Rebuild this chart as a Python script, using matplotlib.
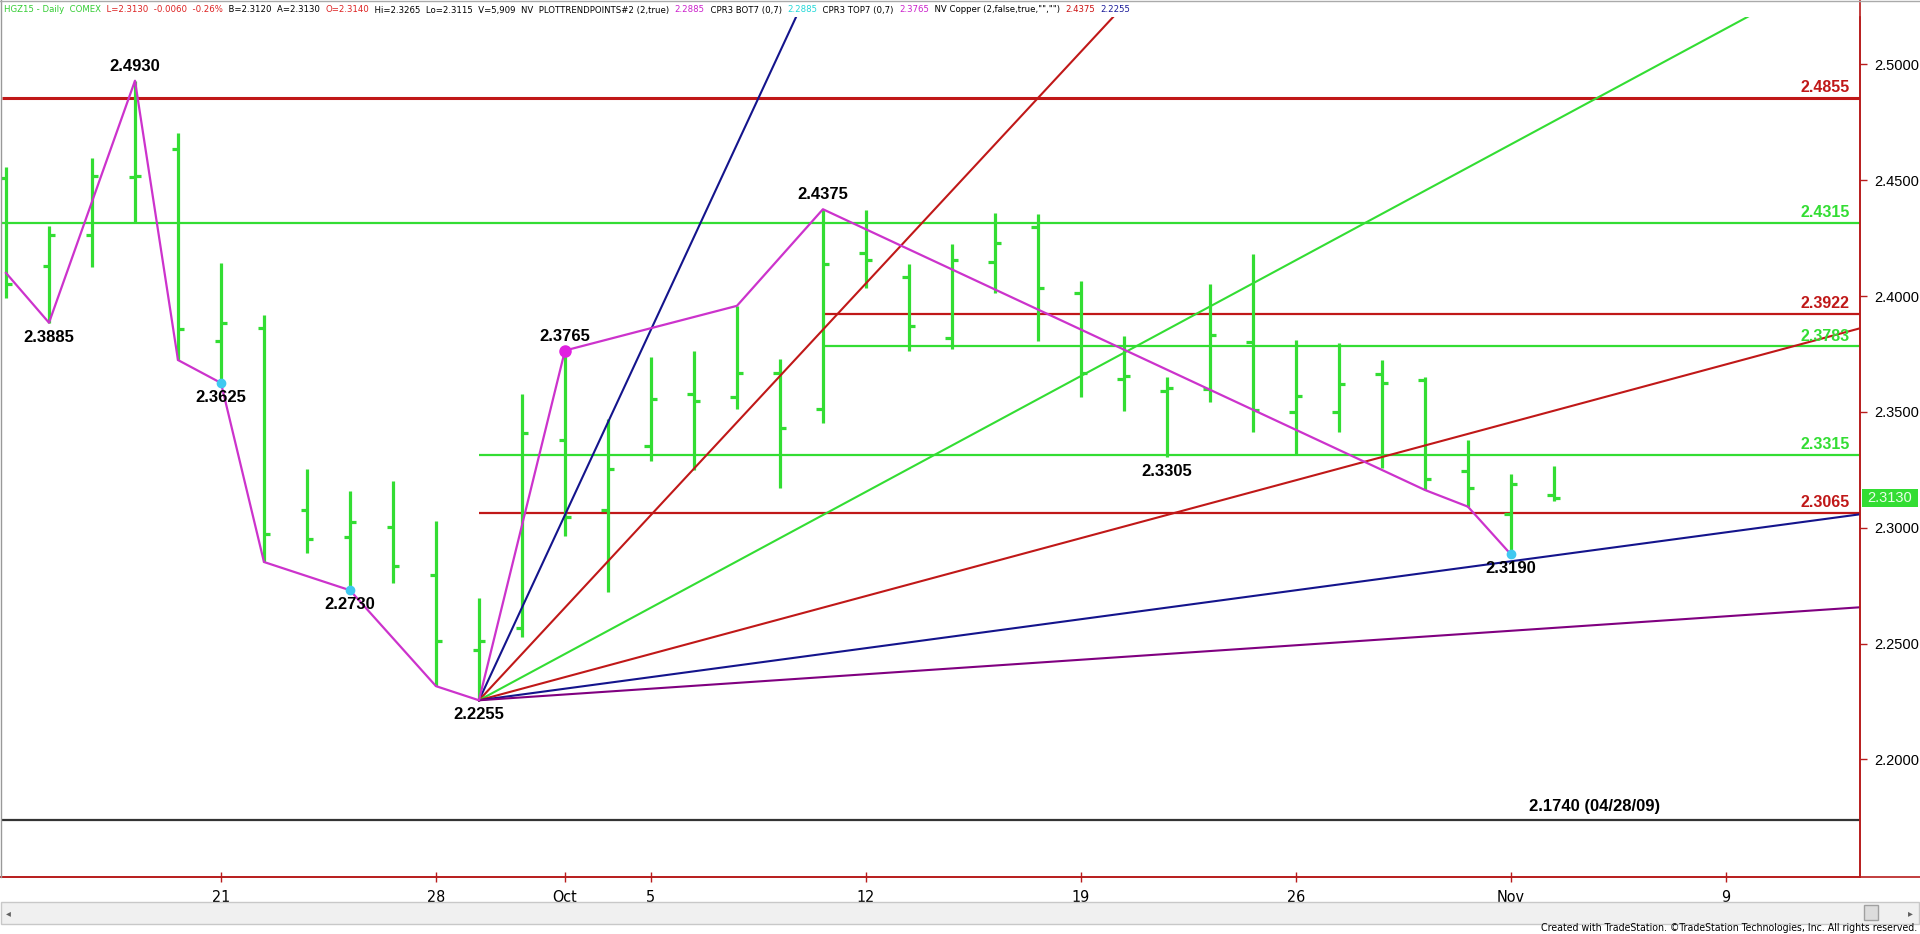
import matplotlib
matplotlib.use("Agg")
import matplotlib.pyplot as plt
from matplotlib import font_manager
from matplotlib.font_manager import FontProperties
from matplotlib.lines import Line2D
from matplotlib.patches import Rectangle

# ---- data ----
dates = ["09-14", "09-15", "09-16", "09-17", "09-18", "09-21", "09-22", "09-23", "09-24", "09-25",
         "09-28", "09-29", "09-30", "10-01", "10-02", "10-05", "10-06", "10-07", "10-08", "10-09",
         "10-12", "10-13", "10-14", "10-15", "10-16", "10-19", "10-20", "10-21", "10-22", "10-23",
         "10-26", "10-27", "10-28", "10-29", "10-30", "11-02", "11-03"]
opens = [2.4509, 2.4130, 2.4262, 2.4515, 2.4634, 2.3806, 2.3861, 2.3076, 2.2958, 2.3003,
         2.2796, 2.2472, 2.2566, 2.3379, 2.3076, 2.3353, 2.3576, 2.3566, 2.3667, 2.3511,
         2.4185, 2.4081, 2.3818, 2.4149, 2.4297, 2.4012, 2.3640, 2.3590, 2.3598, 2.3803,
         2.3498, 2.3498, 2.3664, 2.3638, 2.3246, 2.3058, 2.3140]
highs = [2.4556, 2.4303, 2.4595, 2.4930, 2.4703, 2.4142, 2.3918, 2.3252, 2.3158, 2.3203,
         2.3029, 2.2695, 2.3576, 2.3765, 2.3468, 2.3736, 2.3762, 2.3958, 2.3727, 2.4375,
         2.4372, 2.4137, 2.4225, 2.4357, 2.4353, 2.4066, 2.3829, 2.3652, 2.4051, 2.4182,
         2.3810, 2.3796, 2.3724, 2.3652, 2.3379, 2.3230, 2.3265]
lows = [2.3993, 2.3885, 2.4124, 2.4320, 2.3724, 2.3625, 2.2852, 2.2892, 2.2730, 2.2762,
        2.2316, 2.2255, 2.2527, 2.2964, 2.2721, 2.3288, 2.3250, 2.3511, 2.3170, 2.3453,
        2.4036, 2.3763, 2.3772, 2.4012, 2.3806, 2.3563, 2.3504, 2.3305, 2.3541, 2.3412,
        2.3314, 2.3412, 2.3257, 2.3163, 2.3091, 2.2885, 2.3115]
closes = [2.4052, 2.4262, 2.4519, 2.4520, 2.3857, 2.3883, 2.2971, 2.2950, 2.3023, 2.2835,
          2.2511, 2.2512, 2.3408, 2.3045, 2.3252, 2.3556, 2.3547, 2.3667, 2.3429, 2.4137,
          2.4156, 2.3872, 2.4156, 2.4228, 2.4034, 2.3667, 2.3655, 2.3602, 2.3832, 2.3508,
          2.3569, 2.3619, 2.3623, 2.3210, 2.3170, 2.3187, 2.3130]

# x tick labels (bar index -> label)
tick_idx = [5, 10, 13, 15, 20, 25, 30, 35, 40]
tick_labels = ["21", "28", "Oct", "5", "12", "19", "26", "Nov", "9"]

# swing line (PLOTTRENDPOINTS)
swing_idx = [0, 1, 3, 4, 5, 6, 8, 10, 11, 13, 17, 19, 33, 34, 35]
swing_px = [2.4100, 2.3885, 2.4930, 2.3724, 2.3625, 2.2852, 2.2730, 2.2316, 2.2255, 2.3765,
            2.3958, 2.4375, 2.3163, 2.3091, 2.2885]
cyan_idx = [5, 8, 35]
cyan_px = [2.3625, 2.2730, 2.2885]

# pivot labels
pivot_idx = [3, 1, 5, 8, 11, 13, 19, 27, 35]
pivot_px = [2.4930, 2.3885, 2.3625, 2.2730, 2.2255, 2.3765, 2.4375, 2.3305, 2.2885]
pivot_txt = ["2.4930", "2.3885", "2.3625", "2.2730", "2.2255", "2.3765", "2.4375", "2.3305", "2.3190"]
pivot_up = [True, False, False, False, False, True, True, False, False]

# gann fan from the 2.2255 low
fan_origin = (11, 2.2255)
fan_slopes = [0.04, 0.02, 0.01, 0.005, 0.0025, 0.00125]
fan_colors = ["#14148c", "#c01818", "#33dd33", "#c01818", "#14148c", "#800080"]

# horizontal levels: price, colour, start bar (None = whole chart)
levels = [2.4855, 2.4315, 2.3922, 2.3783, 2.3315, 2.3065]
level_colors = ["#c01818", "#33dd33", "#c01818", "#33dd33", "#33dd33", "#c01818"]
level_start = [None, None, 19, 19, 11, 11]
old_low = 2.1740

last_price = 2.3130
yticks = [2.20, 2.25, 2.30, 2.35, 2.40, 2.45, 2.50]

GREEN = "#33dd33"
RED = "#b81c1c"
MAG = "#cc33cc"

plt.rcParams["font.family"] = ["Liberation Sans", "DejaVu Sans"]

# look for a narrow face for the header / axis dates (TradeStation uses Arial Narrow)
narrow = FontProperties(family="Liberation Sans")
cands = []
for f in font_manager.fontManager.ttflist:
    fn = f.fname.lower()
    if ("narrow" in fn or "condensed" in fn) and f.weight in (400, "normal", "regular") \
            and f.style == "normal":
        score = 0 if "liberationsansnarrow" in fn.replace("-", "") else (1 if "arial" in fn else 2)
        cands.append((score, f.fname))
if cands:
    cands.sort()
    narrow = FontProperties(fname=cands[0][1])

W, H = 1920, 934
fig = plt.figure(figsize=(W / 100, H / 100), dpi=100)
fig.patch.set_facecolor("white")

# axes from x=2..1860 px, y=17..877 px
ax = fig.add_axes([2 / W, (H - 877) / H, 1858 / W, 860 / H])
ax.set_xlim(-0.093, 43.12)
ax.set_ylim(2.1492, 2.5205)

# levels
for lv, c, st in zip(levels, level_colors, level_start):
    x0 = -0.093 if st is None else st
    lw = 2.2 if lv == 2.4855 else 1.6
    ax.plot([x0, 43.12], [lv, lv], color=c, lw=lw, zorder=2, solid_capstyle="butt")
    ax.annotate(f"{lv:.4f}", xy=(0.9946, lv), xycoords=("axes fraction", "data"),
                xytext=(0, 2), textcoords="offset points", ha="right", va="bottom",
                fontsize=11.5, fontweight="bold", color=c, zorder=8)
ax.axhline(old_low, color="#333333", lw=1.6, zorder=2)
ax.annotate("2.1740 (04/28/09)", xy=(36.95, old_low), xytext=(0, 4), textcoords="offset points",
            ha="center", va="bottom", fontsize=12, fontweight="bold", color="black")

# OHLC bars
tick_w = 0.15
for i in range(len(dates)):
    ax.plot([i, i], [lows[i], highs[i]], color=GREEN, lw=2.3, zorder=3, solid_capstyle="butt")
    ax.plot([i - tick_w, i], [opens[i], opens[i]], color=GREEN, lw=2.3, zorder=3, solid_capstyle="butt")
    ax.plot([i, i + tick_w], [closes[i], closes[i]], color=GREEN, lw=2.3, zorder=3, solid_capstyle="butt")

# fan lines
x_end = 43.12
for s, c in zip(fan_slopes, fan_colors):
    ax.plot([fan_origin[0], x_end], [fan_origin[1], fan_origin[1] + s * (x_end - fan_origin[0])],
            color=c, lw=1.5, zorder=4)

# swing line and dots
ax.plot(swing_idx, swing_px, color=MAG, lw=1.6, zorder=5)
ax.plot([13], [2.3765], "o", color="#e020e0", ms=8, zorder=6)
ax.plot(cyan_idx, cyan_px, "o", color="#40c8f0", ms=6, zorder=6)

for i, p, t, up in zip(pivot_idx, pivot_px, pivot_txt, pivot_up):
    ax.annotate(t, xy=(i, p), xytext=(0, 5 if up else -5), textcoords="offset points",
                ha="center", va="bottom" if up else "top", fontsize=12, fontweight="bold",
                color="black", zorder=9)

# axes styling
for side in ["top", "left"]:
    ax.spines[side].set_visible(False)
ax.spines["right"].set_color(RED)
ax.spines["bottom"].set_color(RED)
ax.spines["right"].set_linewidth(1.2)
ax.spines["bottom"].set_linewidth(1.2)
ax.yaxis.tick_right()
ax.set_yticks(yticks)
ax.set_yticklabels([f"{v:.4f}" for v in yticks])
ax.tick_params(axis="y", colors=RED, labelcolor="black", length=5, width=1, labelsize=10.5, pad=5)
ax.set_xticks(tick_idx)
ax.set_xticklabels(tick_labels, fontproperties=narrow, fontsize=11.5)
ax.tick_params(axis="x", colors=RED, labelcolor="black", direction="inout", length=7, width=1, pad=6)

# extend spines to figure edges
fig.add_artist(Line2D([0, 1], [(H - 877) / H] * 2, color=RED, lw=1.2, transform=fig.transFigure))
fig.add_artist(Line2D([1860 / W] * 2, [(H - 877) / H, 1], color=RED, lw=1.2, transform=fig.transFigure))
fig.add_artist(Line2D([1 / W] * 2, [(H - 877) / H, 1], color="#999999", lw=1.0, transform=fig.transFigure))
fig.add_artist(Line2D([0, 1], [1 - 1 / H] * 2, color="#aaaaaa", lw=1.0, transform=fig.transFigure))

# last price box
ypix = ax.transData.transform((0, last_price))[1]
fig.add_artist(Rectangle((1862 / W, (ypix - 9) / H), 56 / W, 18 / H, transform=fig.transFigure,
                         facecolor=GREEN, edgecolor="none"))
fig.text(1890 / W, ypix / H, f"{last_price:.4f}", ha="center", va="center", fontsize=10.5, color="#e8ffe8")

# scroll bar and credit line
fig.add_artist(Rectangle((1 / W, (H - 924) / H), 1918 / W, 22 / H, transform=fig.transFigure,
                         facecolor="#f0f0f0", edgecolor="#c8c8c8", lw=1))
fig.add_artist(Rectangle((1864 / W, (H - 920) / H), 14 / W, 15 / H, transform=fig.transFigure,
                         facecolor="#dcdcdc", edgecolor="#a0a0a0", lw=1))
fig.text(6 / W, (H - 913) / H, "\u25c2", fontsize=7, color="#606060", va="center", family="DejaVu Sans")
fig.text(1908 / W, (H - 913) / H, "\u25b8", fontsize=7, color="#606060", va="center", family="DejaVu Sans")
renderer = fig.canvas.get_renderer()
credit = fig.text(1917 / W, (H - 928) / H,
                  "Created with TradeStation. \u00a9TradeStation Technologies, Inc. All rights reserved.",
                  ha="right", va="center", fontproperties=narrow, fontsize=8.5, color="black")
cw = credit.get_window_extent(renderer).width
credit.set_fontsize(8.5 * 377 / cw)

# header line, coloured pieces placed one after another
header = [("HGZ15 - Daily  COMEX", "#33cc33"), ("  L=2.3130  -0.0060  -0.26%", "#dd2222"),
          ("  B=2.3120  A=2.3130  ", "black"), ("O=2.3140", "#dd2222"),
          ("  Hi=2.3265  Lo=2.3115  V=5,909  NV  PLOTTRENDPOINTS#2 (2,true)  ", "black"),
          ("2.2885", "#cc22cc"), ("  CPR3 BOT7 (0,7)  ", "black"), ("2.2885", "#22d8d8"),
          ("  CPR3 TOP7 (0,7)  ", "black"), ("2.3765", "#cc22cc"),
          ("  NV Copper (2,false,true,\"\",\"\")  ", "black"), ("2.4375", "#cc1111"),
          ("  ", "black"), ("2.2255", "#1a1a99")]
fs = 10.5
texts = [fig.text(0, 0, s, fontproperties=narrow, fontsize=fs, color=c, va="center") for s, c in header]
total = sum(t.get_window_extent(renderer).width for t in texts)
fs = min(fs * 1126 / total, 11.5)
x = 4.0
for t in texts:
    t.set_fontsize(fs)
    t.set_position((x / W, (H - 10) / H))
    x += t.get_window_extent(renderer).width

fig.savefig("out.png", dpi=100, facecolor="white")
